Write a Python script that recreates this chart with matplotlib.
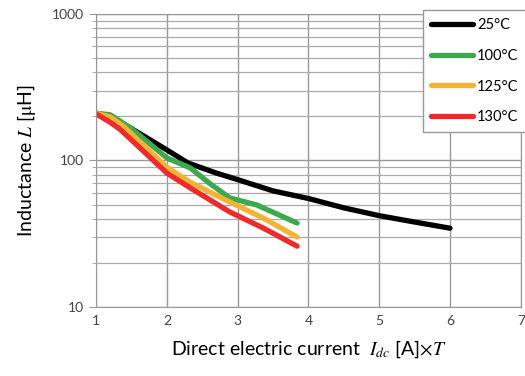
import numpy as np
import matplotlib
matplotlib.use("Agg")
import matplotlib.pyplot as plt

plt.rcParams["font.family"] = ["Lato", "DejaVu Sans"]
plt.rcParams["mathtext.fontset"] = "stix"

# readings, current [A] vs inductance [uH]
x_25 = [1.0, 1.2, 1.5, 2.0, 2.3, 2.7, 3.0, 3.5, 4.0, 4.5, 5.0, 5.5, 6.0]
L_25 = [210, 200, 165, 118, 96, 82, 74, 62, 55, 47.5, 42, 38, 34.5]

x_100 = [1.0, 1.2, 1.5, 2.0, 2.33, 2.6, 2.89, 3.27, 3.84]
L_100 = [210, 205, 165, 104, 89, 70, 55.5, 49.7, 37.4]

x_125 = [1.0, 1.2, 1.38, 2.0, 2.33, 2.89, 3.36, 3.84]
L_125 = [210, 198, 172, 90, 71, 52, 40.5, 30]

x_130 = [1.0, 1.2, 1.34, 2.0, 2.33, 2.89, 3.36, 3.84]
L_130 = [208, 182, 163, 82, 65, 44.5, 34.6, 26]

series = [
    ("25°C", x_25, L_25, "#000000"),
    ("100°C", x_100, L_100, "#3aaa4c"),
    ("125°C", x_125, L_125, "#f5b335"),
    ("130°C", x_130, L_130, "#ee2b2b"),
]

fig = plt.figure(figsize=(5.25, 3.76), dpi=100)
ax = fig.add_axes([0.183, 0.1835, 0.809, 0.7795])

for label, xs, ys, c in series:
    ax.plot(xs, ys, color=c, lw=3.8, solid_capstyle="round",
            solid_joinstyle="round", label=label)

ax.set_yscale("log")
ax.set_xlim(1, 7)
ax.set_ylim(10, 1000)
ax.set_xticks(range(1, 8))
ax.grid(True, which="major", color="#999999", lw=1.0)
ax.grid(True, which="minor", axis="y", color="#aaaaaa", lw=0.9)
ax.set_axisbelow(True)
for s in ax.spines.values():
    s.set_color("#999999")
ax.tick_params(which="both", colors="#999999", labelcolor="#444444",
               labelsize=10, direction="out")
ax.tick_params(axis="x", length=0, pad=6)
ax.tick_params(axis="y", which="major", length=5)
ax.tick_params(axis="y", which="minor", length=3)
ax.yaxis.set_major_formatter(matplotlib.ticker.FuncFormatter(lambda v, p: f"{v:g}"))
ax.yaxis.set_minor_formatter(matplotlib.ticker.NullFormatter())

ax.set_ylabel(r"Inductance $L$ [$\mathrm{\mu}$H]", fontsize=14, labelpad=10)
ax.set_xlabel(r"Direct electric current  $I_{dc}$ [A]$\times$$T$", fontsize=14, labelpad=8)

leg = fig.legend(loc="upper left", bbox_to_anchor=(423 / 525, 1 - 10 / 376),
                 borderaxespad=0, fontsize=10.5, handlelength=2.9,
                 handletextpad=0.25, labelspacing=1.15, borderpad=0.55,
                 fancybox=False, framealpha=1, edgecolor="#999999")
leg.get_frame().set_linewidth(1.0)

fig.savefig("out.png", dpi=100)
